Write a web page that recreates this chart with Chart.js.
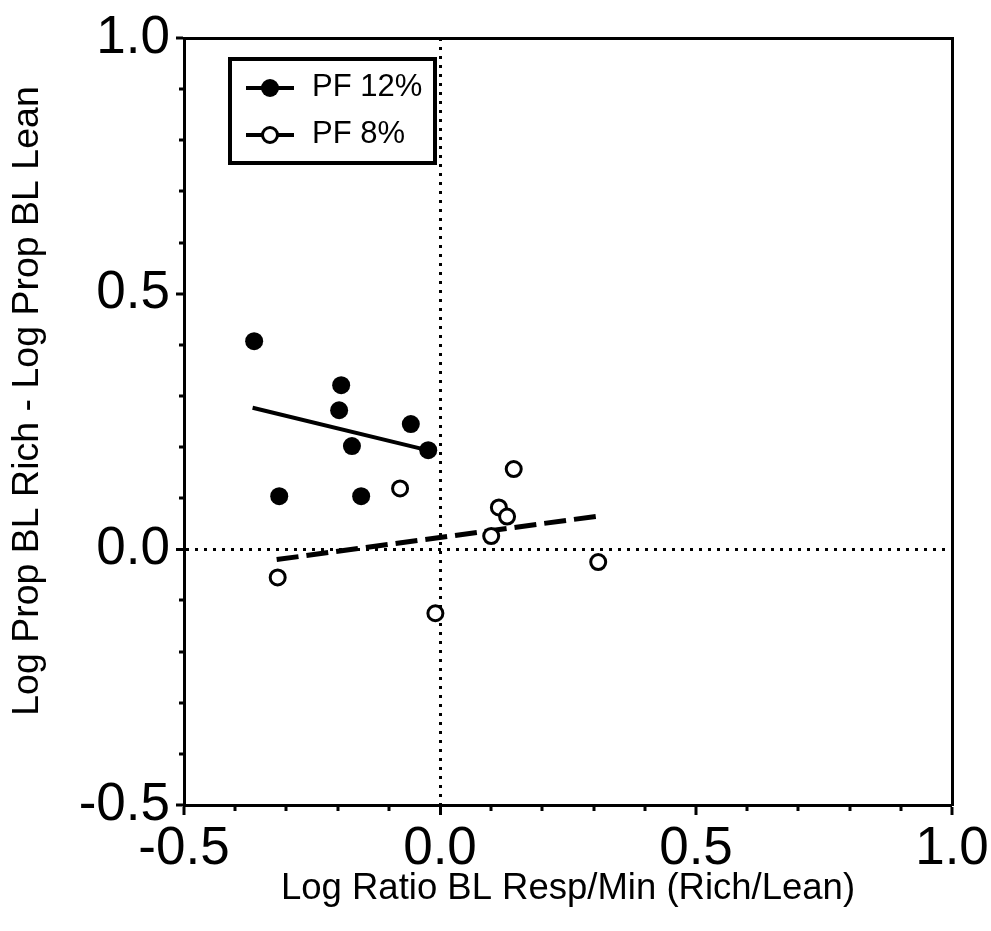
<!DOCTYPE html>
<html>
<head>
<meta charset="utf-8">
<script src="https://cdn.jsdelivr.net/npm/chart.js@4.4.1/dist/chart.umd.min.js"></script>
<style>
body{margin:0;background:#fff}
canvas{display:block}
</style>
</head>
<body>
<canvas id="chart" width="991" height="931"></canvas>
<script>

// values
const pf12X=[-0.363,-0.193,-0.197,-0.172,-0.057,-0.023,-0.314,-0.154]
const pf12Y=[0.407,0.321,0.272,0.202,0.245,0.194,0.104,0.104]

const pf8X=[-0.317,-0.078,-0.009,0.100,0.115,0.131,0.144,0.309]
const pf8Y=[-0.055,0.119,-0.125,0.026,0.082,0.064,0.157,-0.025]

// fitted lines, end points
const fit12X=[-0.366,-0.021]
const fit12Y=[0.277,0.193]
const fit8X=[-0.319,0.309]
const fit8Y=[-0.020,0.065]

const seriesLabels=["PF 12%","PF 8%"]
const xTitle="Log Ratio BL Resp/Min (Rich/Lean)"
const yTitle="Log Prop BL Rich - Log Prop BL Lean"

Chart.defaults.font.family="'Liberation Sans', Arial, sans-serif"
Chart.defaults.color="#000"

function pts(xs,ys){
return xs.map((x,i)=>({x:x,y:ys[i]}))
}

function isMajor(c){
return c.tick && Math.round(c.tick.value*10)%5===0
}

function isZero(c){
return c.tick && Math.abs(c.tick.value)<1e-9
}

function tickLabel(v){
let r=Math.round(v*10)
if(r%5!==0) return ""
return (r/10).toFixed(1)
}

function noPad(s){
s.paddingLeft=0
s.paddingRight=0
s.paddingTop=0
s.paddingBottom=0
}

const extras={
id:"extras",
afterDraw(chart){
const ctx=chart.ctx
ctx.save()

// y title
ctx.save()
ctx.translate(28,401)
ctx.rotate(-Math.PI/2)
ctx.font="37.5px 'Liberation Sans', Arial, sans-serif"
ctx.fillStyle="#000"
ctx.textAlign="center"
ctx.textBaseline="middle"
ctx.fillText(yTitle,0,0)
ctx.restore()

// boxed legend
ctx.strokeStyle="#000"
ctx.lineWidth=4
ctx.strokeRect(230,59,205,104)

seriesLabels.forEach((label,i)=>{
const ds=chart.data.datasets[i]
const y=88+i*47
ctx.lineWidth=4
ctx.beginPath()
ctx.moveTo(246,y)
ctx.lineTo(294,y)
ctx.stroke()
ctx.beginPath()
ctx.arc(270,y,ds.pointRadius,0,Math.PI*2)
ctx.fillStyle=ds.pointBackgroundColor
ctx.fill()
if(ds.pointBorderWidth>0){
ctx.lineWidth=ds.pointBorderWidth
ctx.stroke()
}
ctx.fillStyle="#000"
ctx.font="31px 'Liberation Sans', Arial, sans-serif"
ctx.textAlign="left"
ctx.textBaseline="middle"
ctx.fillText(label,312,y-1)
})

ctx.restore()
}
}

new Chart(document.getElementById("chart"),{

type:"scatter",

data:{
datasets:[
{label:seriesLabels[0],data:pts(pf12X,pf12Y),xAxisID:"x",yAxisID:"y",pointRadius:9,pointBackgroundColor:"#000",pointBorderColor:"#000",pointBorderWidth:0,order:1},
{label:seriesLabels[1],data:pts(pf8X,pf8Y),xAxisID:"x",yAxisID:"y",pointRadius:7.5,pointBackgroundColor:"#fff",pointBorderColor:"#000",pointBorderWidth:3,order:1},
{label:"fit 12",data:pts(fit12X,fit12Y),xAxisID:"x",yAxisID:"y",showLine:true,pointRadius:0,borderColor:"#000",borderWidth:4,order:2},
{label:"fit 8",data:pts(fit8X,fit8Y),xAxisID:"x",yAxisID:"y",showLine:true,pointRadius:0,borderColor:"#000",borderWidth:5,borderDash:[22,8],order:2}
]
},

options:{
responsive:false,
animation:false,
devicePixelRatio:1,
layout:{padding:0},
plugins:{
legend:{display:false},
tooltip:{enabled:false}
},
scales:{
x:{
type:"linear",
position:"bottom",
min:-0.5,
max:1,
afterFit(s){s.height=126;noPad(s)},
ticks:{stepSize:0.1,autoSkip:false,maxRotation:0,padding:3,font:{size:53},callback:tickLabel},
grid:{
tickLength:10,
color:"#000",
tickColor:"#000",
tickWidth:3,
lineWidth:c=>isZero(c)?3:0,
tickBorderDash:c=>isMajor(c)?[]:[4,100]
},
border:{color:"#000",width:3,dash:[3,6]},
title:{display:true,text:xTitle,font:{size:36.5},padding:{top:0,bottom:20}}
},
y:{
type:"linear",
position:"left",
min:-0.5,
max:1,
afterFit(s){s.width=184;noPad(s)},
ticks:{stepSize:0.1,autoSkip:false,padding:6,font:{size:53},callback:tickLabel},
grid:{
tickLength:8,
color:"#000",
tickColor:"#000",
tickWidth:3,
lineWidth:c=>isZero(c)?3:0,
tickBorderDash:c=>isMajor(c)?[]:[0,3,10,100]
},
border:{color:"#000",width:3,dash:[3,6]}
},
x2:{
type:"linear",
position:"top",
min:-0.5,
max:1,
afterFit(s){s.height=38;noPad(s)},
ticks:{display:false},
grid:{drawOnChartArea:false,drawTicks:false},
border:{color:"#000",width:3}
},
y2:{
type:"linear",
position:"right",
min:-0.5,
max:1,
afterFit(s){s.width=39;noPad(s)},
ticks:{display:false},
grid:{drawOnChartArea:false,drawTicks:false},
border:{color:"#000",width:3}
}
}
},

plugins:[extras]

})

</script>
</body>
</html>
